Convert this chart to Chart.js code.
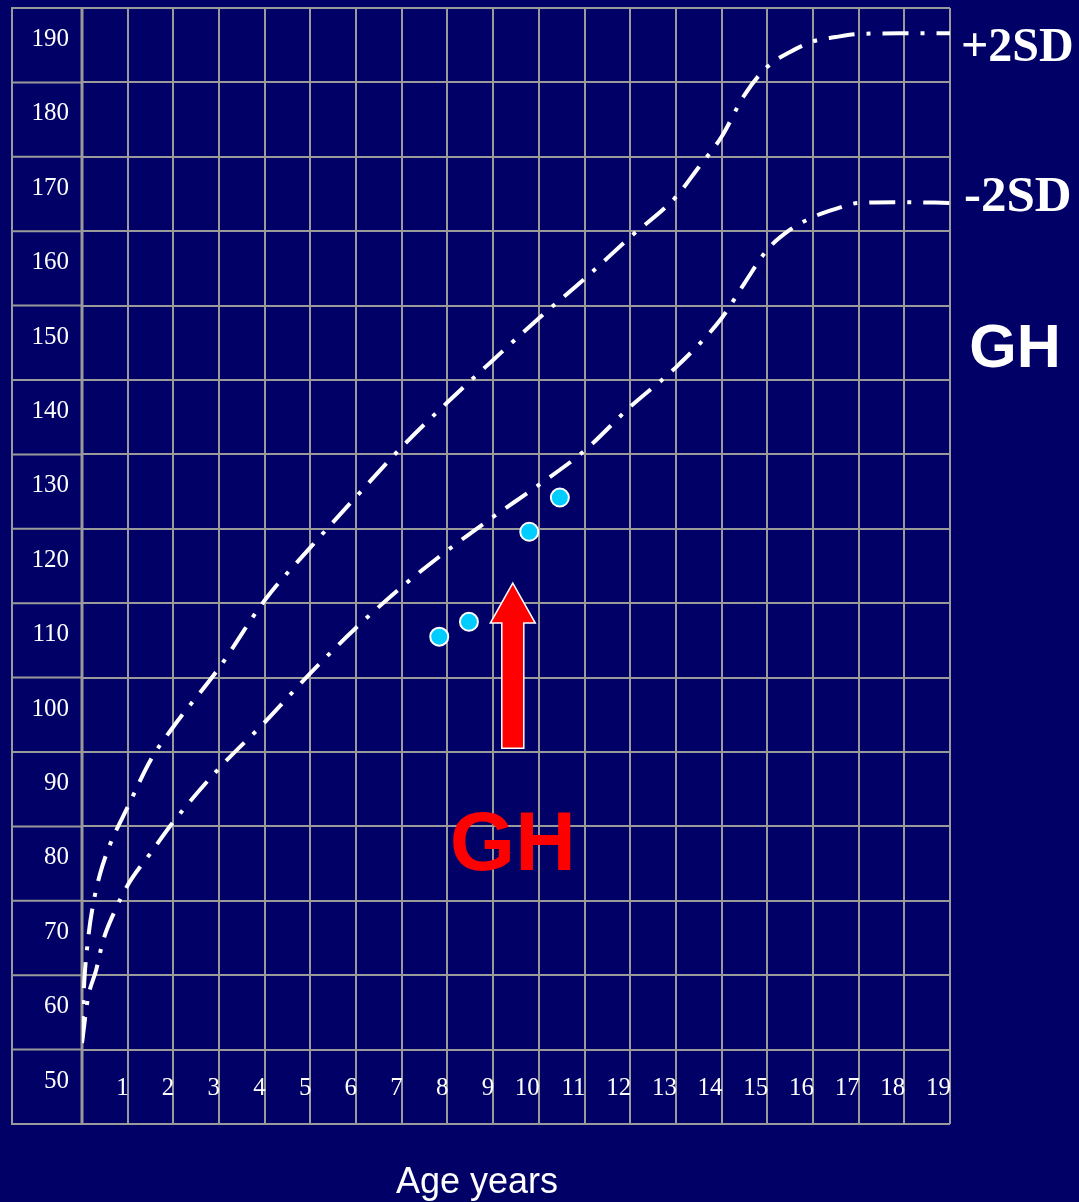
<!DOCTYPE html>
<html>
<head>
<meta charset="utf-8">
<script src="https://cdn.jsdelivr.net/npm/chart.js@4.4.1/dist/chart.umd.min.js"></script>
<style>
  html, body { margin: 0; padding: 0; background: #000066; }
  canvas { display: block; }
</style>
</head>
<body>
<canvas id="c" width="1079" height="1202"></canvas>
<script>
// ---- Data ----
const plusAges    = [0, 0.04, 0.13, 0.24, 0.39, 0.61, 1, 1.5, 2, 3, 4, 5, 6, 7, 8, 9, 10, 11, 12, 13, 13.5, 14, 14.5, 15, 15.5, 16, 16.5, 17, 18, 19];
const plusHeights = [51, 58, 64.7, 69.4, 73.5, 77.5, 82.6, 88.9, 93.4, 101.3, 110.4, 117.5, 124.3, 131, 137, 142.7, 148.3, 153.6, 159.2, 164.6, 168.6, 172.7, 178.3, 182.1, 184.1, 185.5, 186.1, 186.5, 186.6, 186.6];

const minusAges    = [0, 0.13, 0.31, 0.46, 0.7, 1, 1.5, 2, 3, 4, 5, 6, 7, 8, 9, 10, 11, 12, 13, 14, 14.5, 15, 15.5, 16, 16.5, 17, 18, 19];
const minusHeights = [50.9, 56.9, 60.7, 64.6, 68.4, 72.1, 76.4, 80.6, 87.8, 94, 100.6, 106.7, 112.2, 117.1, 121.6, 125.9, 130.5, 136.4, 141.7, 148.3, 153, 157.5, 160.2, 161.9, 163, 163.8, 163.9, 163.8];

const patientAges    = [7.82, 8.47, 9.79, 10.46];
const patientHeights = [105.5, 107.5, 119.6, 124.2];

const yTickLabels = [190, 180, 170, 160, 150, 140, 130, 120, 110, 100, 90, 80, 70, 60, 50];
const xTickLabels = [1, 2, 3, 4, 5, 6, 7, 8, 9, 10, 11, 12, 13, 14, 15, 16, 17, 18, 19];

const arrowAge = 9.43;
const arrowFrom = 90.5;
const arrowTo = 112.7;

const plusLabel = '+2SD';
const minusLabel = '-2SD';
const sideLabel = 'GH';
const arrowLabel = 'GH';
const xTitle = 'Age years';

// ---- Styling ----
const BG = '#000066';
const GRID = '#9a9a9a';

const toXY = (xs, ys) => xs.map((x, i) => ({ x: x, y: ys[i] }));

const bgPlugin = {
  id: 'bg',
  beforeDraw(chart) {
    const c = chart.ctx;
    c.save();
    c.fillStyle = BG;
    c.fillRect(0, 0, chart.width, chart.height);
    c.restore();
  }
};

const decoPlugin = {
  id: 'deco',
  beforeDatasetsDraw(chart) {
    const c = chart.ctx;
    const xs = chart.scales.x, ys = chart.scales.y;
    const a = chart.chartArea;
    c.save();
    c.strokeStyle = GRID;
    c.lineWidth = 2;
    // left label column box
    const colLeft = 12;
    c.beginPath();
    c.moveTo(colLeft, a.top); c.lineTo(colLeft, a.bottom);
    for (let v = 40; v <= 190; v += 10) {
      const py = ys.getPixelForValue(v);
      c.moveTo(colLeft - 1, py); c.lineTo(a.left, py);
    }
    c.stroke();
    c.lineWidth = 3;
    c.beginPath();
    c.moveTo(a.left, a.top - 1); c.lineTo(a.left, a.bottom + 1);
    c.stroke();

    // y labels
    c.fillStyle = '#ffffff';
    c.font = '25px "Liberation Serif", "Times New Roman", serif';
    c.textAlign = 'right';
    c.textBaseline = 'alphabetic';
    yTickLabels.forEach(v => {
      const top = ys.getPixelForValue(v);
      c.fillText(String(v), 69, top + 38);
    });
    // x labels
    const rowTop = ys.getPixelForValue(50);
    xTickLabels.forEach(k => {
      c.fillText(String(k), xs.getPixelForValue(k) + 1, rowTop + 45);
    });
    c.restore();
  },
  afterDraw(chart) {
    const c = chart.ctx;
    const xs = chart.scales.x, ys = chart.scales.y;
    const a = chart.chartArea;
    c.save();
    // arrow
    const ax = xs.getPixelForValue(arrowAge);
    const tipY = ys.getPixelForValue(arrowTo);
    const baseY = ys.getPixelForValue(arrowFrom);
    const headH = 40, headW = 22.5, shaftW = 11;
    c.beginPath();
    c.moveTo(ax, tipY);
    c.lineTo(ax + headW, tipY + headH);
    c.lineTo(ax + shaftW, tipY + headH);
    c.lineTo(ax + shaftW, baseY);
    c.lineTo(ax - shaftW, baseY);
    c.lineTo(ax - shaftW, tipY + headH);
    c.lineTo(ax - headW, tipY + headH);
    c.closePath();
    c.fillStyle = '#ff0000';
    c.fill();
    c.strokeStyle = '#ffffff';
    c.lineWidth = 1.5;
    c.lineJoin = 'miter';
    c.stroke();

    // red GH under arrow
    c.fillStyle = '#ff0000';
    c.font = 'bold 84px "Liberation Sans", Arial, sans-serif';
    c.textAlign = 'center';
    c.textBaseline = 'alphabetic';
    c.fillText(arrowLabel, ax, 870);

    // right-side labels
    c.fillStyle = '#ffffff';
    c.textAlign = 'left';
    c.font = 'bold 48px "Liberation Serif", "Times New Roman", serif';
    c.fillText(plusLabel, a.right + 11, 61);
    c.font = 'bold 51px "Liberation Serif", "Times New Roman", serif';
    c.fillText(minusLabel, a.right + 14, 211);
    c.textAlign = 'center';
    c.font = 'bold 61px "Liberation Sans", Arial, sans-serif';
    c.fillText(sideLabel, 1015, 367);

    // x title
    c.font = '36px "Liberation Sans", Arial, sans-serif';
    c.fillText(xTitle, 477, 1193);
    c.restore();
  }
};

const lineStyle = {
  borderColor: '#ffffff',
  borderWidth: 4,
  borderDash: [26, 12, 4, 12],
  borderCapStyle: 'butt',
  pointRadius: 0,
  fill: false,
  cubicInterpolationMode: 'monotone',
  showLine: true
};

new Chart(document.getElementById('c').getContext('2d'), {
  type: 'line',
  data: {
    datasets: [
      Object.assign({ label: plusLabel, data: toXY(plusAges, plusHeights) }, lineStyle),
      Object.assign({ label: minusLabel, data: toXY(minusAges, minusHeights) }, lineStyle),
      {
        label: 'Patient',
        data: toXY(patientAges, patientHeights),
        showLine: false,
        pointRadius: 9,
        pointBackgroundColor: '#00ccff',
        pointBorderColor: '#ffffff',
        pointBorderWidth: 2
      }
    ]
  },
  options: {
    responsive: false,
    animation: false,
    layout: { padding: { left: 82, right: 129, top: 8, bottom: 78 }, autoPadding: false },
    plugins: { legend: { display: false }, tooltip: { enabled: false } },
    scales: {
      x: {
        type: 'linear', min: 0, max: 19,
        ticks: { display: false, stepSize: 1, font: { size: 1 } },
        grid: { color: GRID, lineWidth: 2, drawTicks: false, tickLength: 0 },
        border: { display: false }
      },
      y: {
        type: 'linear', min: 40, max: 190,
        ticks: { display: false, stepSize: 10, font: { size: 1 } },
        grid: { color: GRID, lineWidth: 2, drawTicks: false, tickLength: 0 },
        border: { display: false }
      }
    }
  },
  plugins: [bgPlugin, decoPlugin]
});
</script>
</body>
</html>
